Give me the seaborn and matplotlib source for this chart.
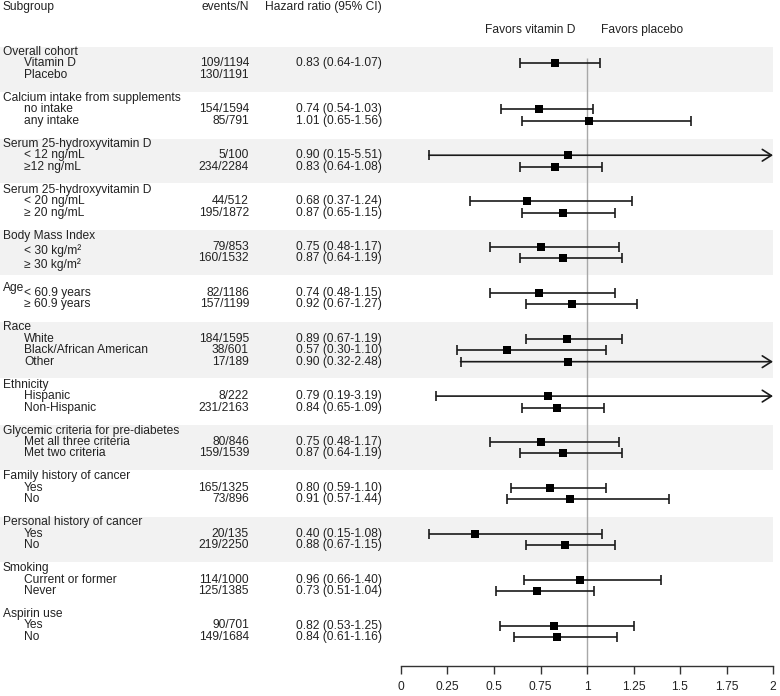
import numpy as np
import pandas as pd
import matplotlib
matplotlib.use("Agg")
import matplotlib.pyplot as plt
import seaborn as sns
from matplotlib.transforms import blended_transform_factory

# ---------------- data ----------------
group_titles = [
    "Overall cohort",
    "Calcium intake from supplements",
    "Serum 25-hydroxyvitamin D",
    "Serum 25-hydroxyvitamin D",
    "Body Mass Index",
    "Age",
    "Race",
    "Ethnicity",
    "Glycemic criteria for pre-diabetes",
    "Family history of cancer",
    "Personal history of cancer",
    "Smoking",
    "Aspirin use",
]
group_items = [
    ["Vitamin D", "Placebo"],
    ["no intake", "any intake"],
    ["< 12 ng/mL", "\u226512 ng/mL"],
    ["< 20 ng/mL", "\u2265 20 ng/mL"],
    ["< 30 kg/m\u00b2", "\u2265 30 kg/m\u00b2"],
    ["< 60.9 years", "\u2265 60.9 years"],
    ["White", "Black/African American", "Other"],
    ["Hispanic", "Non-Hispanic"],
    ["Met all three criteria", "Met two criteria"],
    ["Yes", "No"],
    ["Yes", "No"],
    ["Current or former", "Never"],
    ["Yes", "No"],
]
events_n = [
    ["109/1194", "130/1191"],
    ["154/1594", "85/791"],
    ["5/100", "234/2284"],
    ["44/512", "195/1872"],
    ["79/853", "160/1532"],
    ["82/1186", "157/1199"],
    ["184/1595", "38/601", "17/189"],
    ["8/222", "231/2163"],
    ["80/846", "159/1539"],
    ["165/1325", "73/896"],
    ["20/135", "219/2250"],
    ["114/1000", "125/1385"],
    ["90/701", "149/1684"],
]
hr = [
    [0.83, None], [0.74, 1.01], [0.90, 0.83], [0.68, 0.87], [0.75, 0.87],
    [0.74, 0.92], [0.89, 0.57, 0.90], [0.79, 0.84], [0.75, 0.87],
    [0.80, 0.91], [0.40, 0.88], [0.96, 0.73], [0.82, 0.84],
]
ci_low = [
    [0.64, None], [0.54, 0.65], [0.15, 0.64], [0.37, 0.65], [0.48, 0.64],
    [0.48, 0.67], [0.67, 0.30, 0.32], [0.19, 0.65], [0.48, 0.64],
    [0.59, 0.57], [0.15, 0.67], [0.66, 0.51], [0.53, 0.61],
]
ci_high = [
    [1.07, None], [1.03, 1.56], [5.51, 1.08], [1.24, 1.15], [1.17, 1.19],
    [1.15, 1.27], [1.19, 1.10, 2.48], [3.19, 1.09], [1.17, 1.19],
    [1.10, 1.44], [1.08, 1.15], [1.40, 1.04], [1.25, 1.16],
]
shaded = [True, False, True, False, True, False, True, False, True, False, True, False, False]
x_ticks = [0, 0.25, 0.5, 0.75, 1, 1.25, 1.5, 1.75, 2]
x_tick_labels = ["0", "0.25", "0.5", "0.75", "1", "1.25", "1.5", "1.75", "2"]

# ---------------- style ----------------
sns.set_theme(style="white")
plt.rcParams["font.family"] = ["Liberation Sans", "DejaVu Sans"]
FS = 8.65
TXT = "#222222"
BAND = "#f2f2f2"
BAR = "#1a1a1a"

W, H = 780, 696
ROW = 11.47       # pixels per row
Y0 = 52           # pixel y of first group header
X0, XS = 401, 186  # pixel x of HR=0, pixels per unit

fig = plt.figure(figsize=(W / 100, H / 100), dpi=100)
ax = fig.add_axes([0, 30 / H, 1, 666 / H])
ax.set_xlim(-X0 / XS, (W - X0) / XS)
ax.set_ylim((666 - Y0) / ROW, -Y0 / ROW)

def prow(py):
    return (py - Y0) / ROW

tr = blended_transform_factory(ax.transAxes, ax.transData)

# ---------------- build table ----------------
recs = []
r = 0
for gi, title in enumerate(group_titles):
    n = len(group_items[gi])
    if shaded[gi]:
        ax.fill_between([0, 773 / W], r - 0.44, r + n + 1.45, color=BAND,
                        transform=tr, zorder=0, lw=0)
    hy = r + (0.6 if title == "Age" else 0)
    ax.text(3 / W, hy, title, transform=tr, ha="left", va="center",
            fontsize=FS, color=TXT)
    for k in range(n):
        y = r + 1 + k
        ly = y + (0.3 + 0.22 * k if "kg/m" in group_items[gi][k] else 0)
        ax.text(24 / W, ly, group_items[gi][k], transform=tr, ha="left",
                va="center", fontsize=FS, color=TXT)
        ax.text(249 / W, y, events_n[gi][k], transform=tr, ha="right",
                va="center", fontsize=FS, color=TXT)
        if hr[gi][k] is not None:
            ax.text(382 / W, y, f"{hr[gi][k]:.2f} ({ci_low[gi][k]:.2f}-{ci_high[gi][k]:.2f})",
                    transform=tr, ha="right", va="center", fontsize=FS, color=TXT)
            recs.append(dict(y=y, hr=hr[gi][k], lo=ci_low[gi][k], hi=ci_high[gi][k]))
    r += n + 2

df = pd.DataFrame(recs)

# column headers
hy = prow(7)
ax.text(3 / W, hy, "Subgroup", transform=tr, ha="left", va="center", fontsize=FS, color=TXT)
ax.text(249 / W, hy, "events/N", transform=tr, ha="right", va="center", fontsize=FS, color=TXT)
ax.text(382 / W, hy, "Hazard ratio (95% CI)", transform=tr, ha="right", va="center",
        fontsize=FS, color=TXT)
fy = prow(30)
ax.text(0.935, fy, "Favors vitamin D", ha="right", va="center", fontsize=FS, color=TXT)
ax.text(1.075, fy, "Favors placebo", ha="left", va="center", fontsize=FS, color=TXT)

# reference line
ax.vlines(1, prow(58), ax.get_ylim()[0], color="#a8a8a8", lw=1.0, zorder=1)

# CIs
XMAX = 2
for _, d in df.iterrows():
    if d.hi > XMAX:
        ax.annotate("", xy=(XMAX, d.y), xytext=(d.lo, d.y),
                    arrowprops=dict(arrowstyle="->,head_length=0.55,head_width=0.35",
                                    lw=1.2, color=BAR, shrinkA=0, shrinkB=0),
                    annotation_clip=False, zorder=3)
        ax.plot([d.lo], [d.y], marker="|", ms=7.5, mew=1.2, color=BAR, zorder=3)
    else:
        ax.hlines(d.y, d.lo, d.hi, color=BAR, lw=1.2, zorder=3)
        ax.plot([d.lo, d.hi], [d.y, d.y], ls="none", marker="|", ms=7.5, mew=1.2,
                color=BAR, zorder=3)

sns.scatterplot(data=df, x="hr", y="y", marker="s", s=26, color="black",
                edgecolor="black", linewidth=0, ax=ax, zorder=4, legend=False)

# axis
for s in ["top", "left", "right"]:
    ax.spines[s].set_visible(False)
ax.spines["bottom"].set_bounds(0, 2)
ax.spines["bottom"].set_color("#333333")
ax.spines["bottom"].set_linewidth(1.0)
ax.set_xticks(x_ticks)
ax.set_xticklabels(x_tick_labels)
ax.tick_params(axis="x", direction="out", length=5.8, width=1.0, color="#333333",
               pad=5, labelsize=FS, labelcolor=TXT, bottom=True)
ax.set_yticks([])
ax.set_xlabel("")
ax.set_ylabel("")
ax.set_facecolor("white")
ax.grid(False)

fig.savefig("out.png", dpi=100, facecolor="white")
